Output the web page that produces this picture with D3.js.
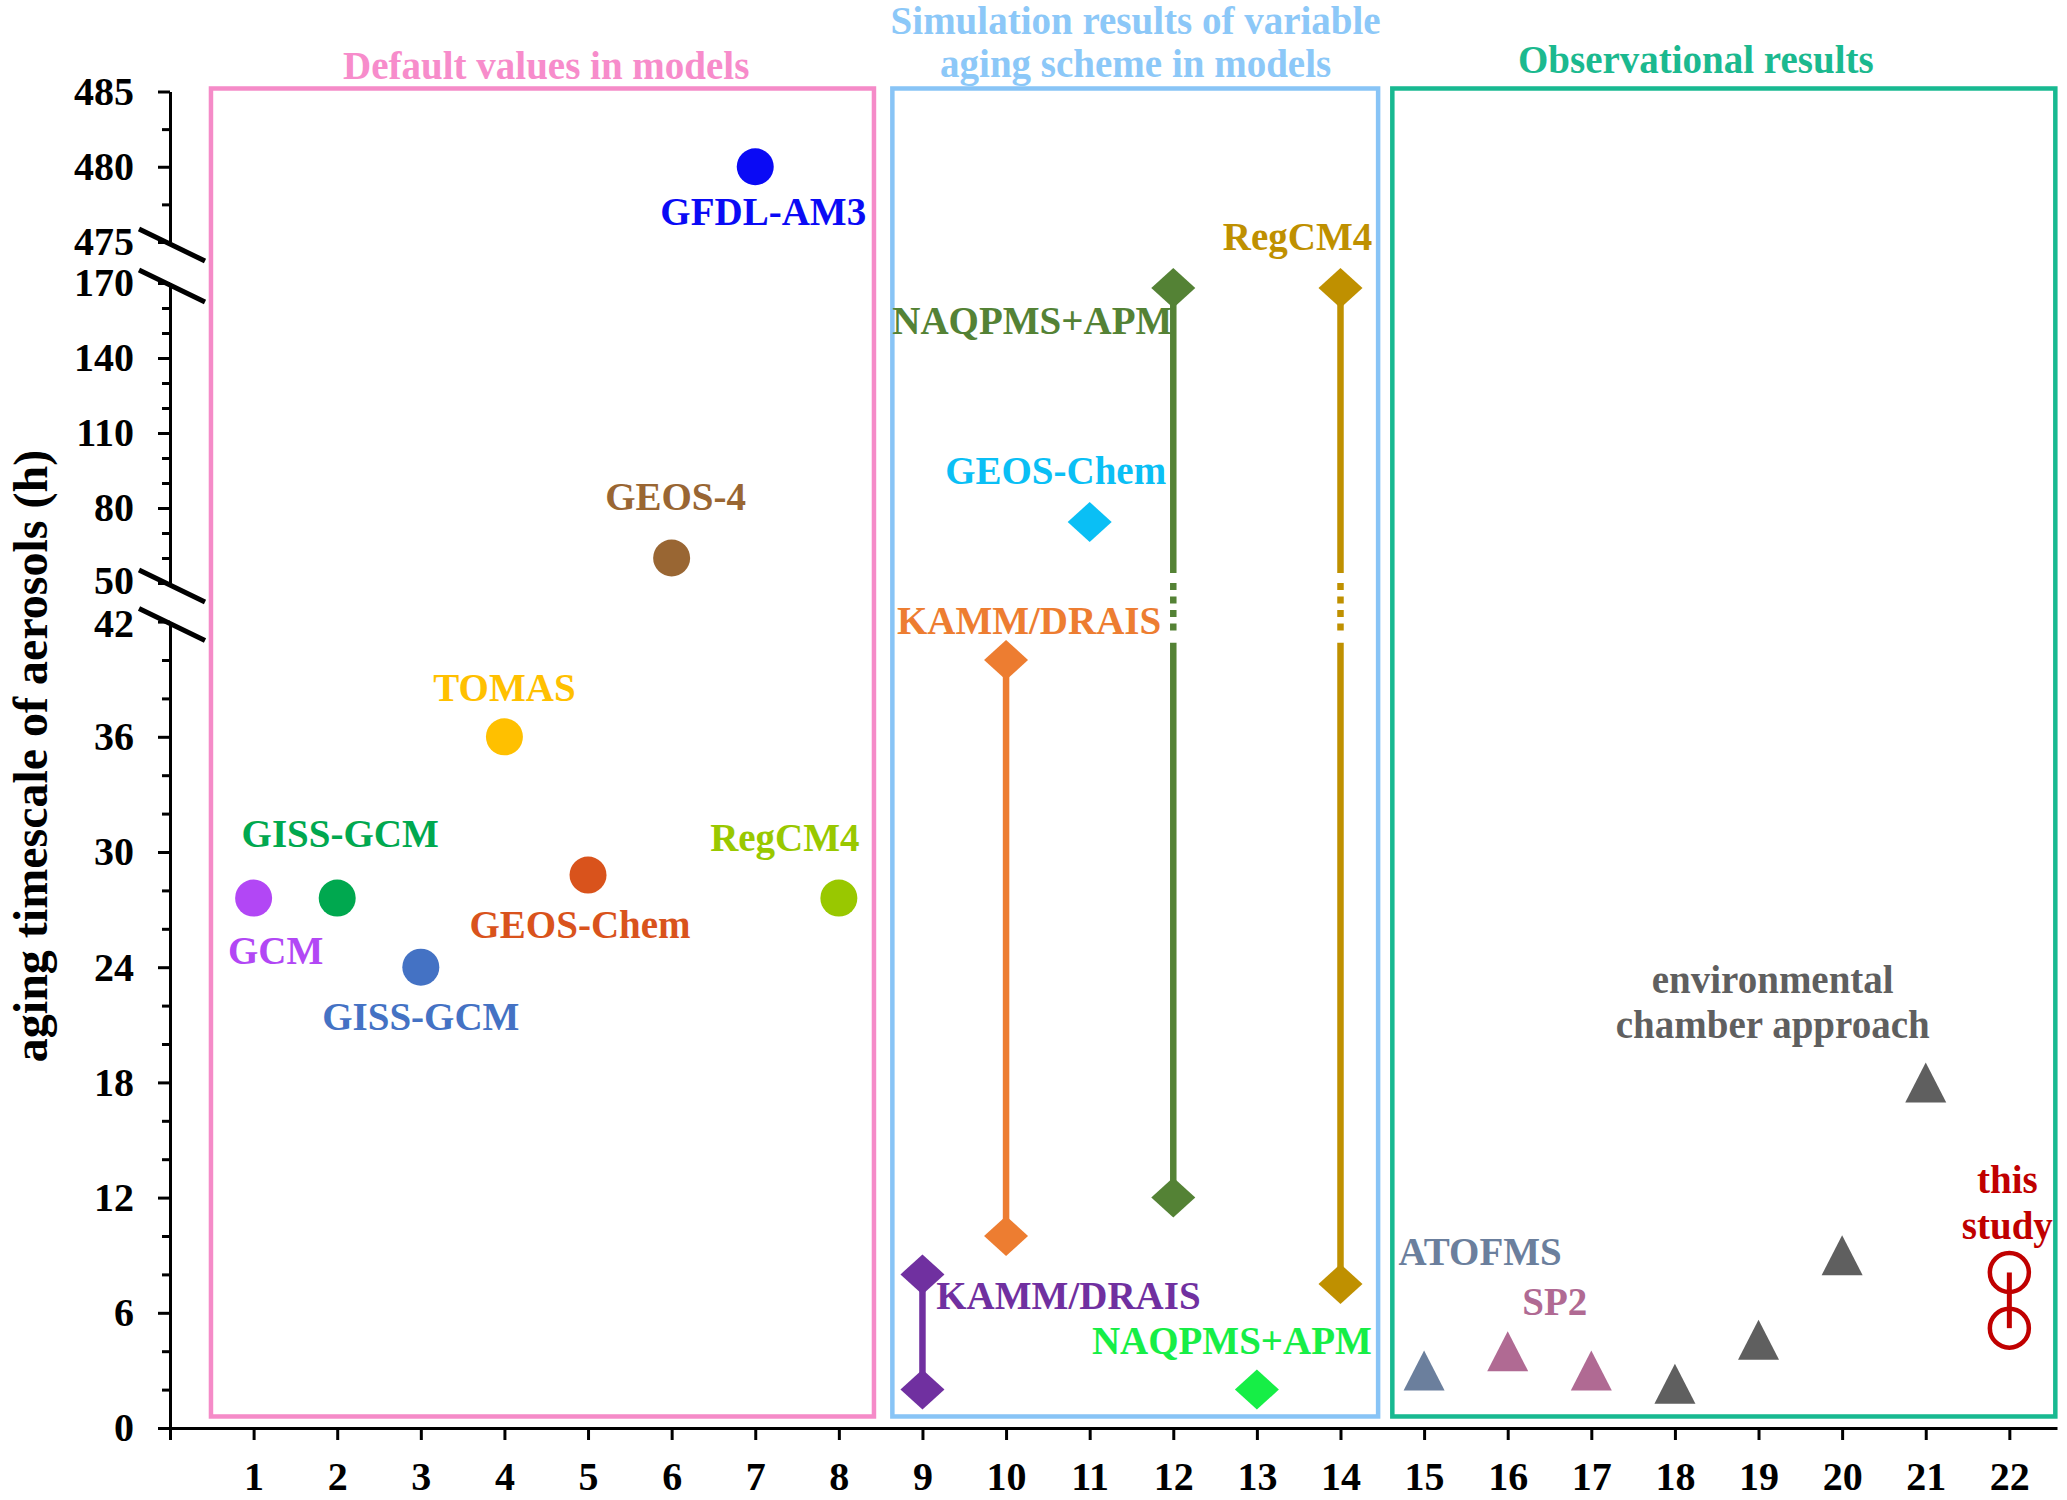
<!DOCTYPE html>
<html>
<head>
<meta charset="utf-8">
<script src="https://cdn.jsdelivr.net/npm/d3@7"></script>
<style>
  body { margin: 0; background: #fff; }
  text { font-family: "Liberation Serif", "Times New Roman", serif; font-weight: bold; }
</style>
</head>
<body>
<div id="chart"></div>
<script>
// ---- data ----
const defaultPos = [1, 2, 3, 4, 5, 6, 7, 8];
const defaultVals = [27.6, 27.6, 24, 36, 28.8, 60, 480, 27.6];
const defaultNames = ["GCM", "GISS-GCM", "GISS-GCM", "TOMAS", "GEOS-Chem", "GEOS-4", "GFDL-AM3", "RegCM4"];

const schemePos = [9, 10, 11, 12, 13, 14];
const schemeLow = [2, 10, 74.4, 12, 2, 7.5];
const schemeHigh = [8, 40, 74.4, 168, 2, 168];
const schemeNames = ["KAMM/DRAIS", "KAMM/DRAIS", "GEOS-Chem", "NAQPMS+APM", "NAQPMS+APM", "RegCM4"];

const obsPos = [15, 16, 17, 18, 19, 20, 21];
const obsVals = [3, 4, 3, 2.3, 4.6, 9, 18];

const studyPos = 22;
const studyVals = [8.1, 5.2];

const xTicks = d3.range(0, 23);
const yLowTicks = [0, 6, 12, 18, 24, 30, 36, 42];
const yMidTicks = [50, 80, 110, 140, 170];
const yTopTicks = [475, 480, 485];

const groupTitles = [["Default values in models"], ["Simulation results of variable", "aging scheme in models"], ["Observational results"]];

// ---- colours ----
const defaultColors = ["#b247f5", "#00a84f", "#4472c4", "#ffc000", "#d9531c", "#996633", "#0a0af5", "#99c800"];
const schemeColors = ["#7030a0", "#ed7d31", "#0abff5", "#548235", "#16ee46", "#bf9000"];
const obsColors = ["#6b7f9d", "#b06a93", "#b06a93", "#5f5f5f", "#5f5f5f", "#5f5f5f", "#5f5f5f"];
const studyColor = "#c00000";
const boxColors = ["#f58bc8", "#88c4f6", "#18b991"];
const titleColors = ["#f78ccb", "#8cc8f8", "#1bb98f"];

// ---- layout ----
const width = 2067, height = 1500;
const svg = d3.select("#chart").append("svg")
    .attr("width", width)
    .attr("height", height);

const x = d3.scaleLinear().domain([0, 22.57]).range([170, 2057]);

// broken y axis: three linear pieces
const yLow = d3.scaleLinear().domain([0, 42]).range([1428, 621.6]);
const yMid = d3.scaleLinear().domain([50, 170]).range([583, 283]);
const yTop = d3.scaleLinear().domain([475, 485]).range([242, 91.5]);
const y = v => v >= 475 ? yTop(v) : (v >= 50 ? yMid(v) : yLow(v));

// group boxes (x extents in axis units)
const boxX = [[0.49, 8.42], [8.64, 14.45], [14.62, 22.55]];
const boxTop = 485.2, boxBottom = 0.6;
const titleX = [4.5, 11.55, 18.25];
const titleBase = [[79], [34, 77], [72.7]];

svg.selectAll(".box")
    .data(boxX)
    .enter().append("rect")
    .attr("class", "box")
    .attr("x", d => x(d[0]))
    .attr("y", y(boxTop))
    .attr("width", d => x(d[1]) - x(d[0]))
    .attr("height", y(boxBottom) - y(boxTop))
    .attr("fill", "none")
    .attr("stroke", (d, i) => boxColors[i])
    .attr("stroke-width", 4.5);

groupTitles.forEach((lines, i) => {
    lines.forEach((t, j) => {
        svg.append("text")
            .attr("x", x(titleX[i]))
            .attr("y", titleBase[i][j])
            .attr("text-anchor", "middle")
            .attr("font-size", 39)
            .attr("fill", titleColors[i])
            .text(t);
    });
});

// ---- axes ----
function styleAxis(g) {
    g.select(".domain").attr("stroke-width", 3);
    g.selectAll(".tick line").attr("stroke-width", 3);
    g.selectAll(".tick text")
        .attr("font-size", 40)
        .attr("fill", "#000")
        .style("font-family", "'Liberation Serif', 'Times New Roman', serif")
        .style("font-weight", "bold");
}

const yPieces = [
    [yLow, yLowTicks, d3.range(2, 42, 2).filter(v => v % 6 !== 0)],
    [yMid, yMidTicks, d3.range(60, 170, 10).filter(v => (v - 50) % 30 !== 0)],
    [yTop, yTopTicks, [477.5, 482.5]]
];

yPieces.forEach(([s, majors, minors]) => {
    svg.append("g")
        .attr("transform", `translate(${x(0)},0)`)
        .call(d3.axisLeft(s).tickValues(minors).tickSize(8).tickSizeOuter(0).tickFormat(""))
        .call(g => g.select(".domain").remove())
        .call(styleAxis);
    svg.append("g")
        .attr("transform", `translate(${x(0)},0)`)
        .call(d3.axisLeft(s).tickValues(majors).tickSize(12).tickSizeOuter(0).tickPadding(24).tickFormat(d3.format("d")))
        .call(styleAxis);
});

// the 50 and 42 labels sit very close across the break: nudge them apart a little
svg.selectAll(".tick text")
    .filter(d => d === 50 || d === 42)
    .attr("dy", d => d === 50 ? "0.25em" : "0.38em");

svg.append("g")
    .attr("transform", `translate(0,${yLow(0)})`)
    .call(d3.axisBottom(x).tickValues(xTicks).tickSize(12).tickSizeOuter(0).tickPadding(22)
        .tickFormat(d => d === 0 ? "" : d))
    .call(styleAxis);

// break marks on the y axis
[475, 170, 50, 42].forEach(v => {
    svg.append("line")
        .attr("x1", x(0) + 2 - 33).attr("y1", y(v) + 3 - 16)
        .attr("x2", x(0) + 2 + 33).attr("y2", y(v) + 3 + 16)
        .attr("stroke", "#000")
        .attr("stroke-width", 5);
});

svg.append("text")
    .attr("transform", `translate(47,756) rotate(-90)`)
    .attr("text-anchor", "middle")
    .attr("font-size", 48)
    .attr("fill", "#000")
    .text("aging timescale of aerosols (h)");

// ---- default values: circles ----
const defaultLabelOff = [[22, 66], [3, -51], [0, 63], [0, -36], [-8, 63], [4, -48], [8, 58], [-54, -47]];

svg.selectAll(".dflt")
    .data(defaultPos)
    .enter().append("circle")
    .attr("class", "dflt")
    .attr("cx", d => x(d))
    .attr("cy", (d, i) => y(defaultVals[i]))
    .attr("r", 18.5)
    .attr("fill", (d, i) => defaultColors[i]);

svg.selectAll(".dfltLabel")
    .data(defaultPos)
    .enter().append("text")
    .attr("class", "dfltLabel")
    .attr("x", (d, i) => x(d) + defaultLabelOff[i][0])
    .attr("y", (d, i) => y(defaultVals[i]) + defaultLabelOff[i][1])
    .attr("text-anchor", "middle")
    .attr("font-size", 39)
    .attr("fill", (d, i) => defaultColors[i])
    .text((d, i) => defaultNames[i]);

// ---- variable aging scheme: diamonds + range lines ----
const schemeLabelOff = [[146, 34.6], [23, -26.5], [-34, -38.5], [-141, 46], [-25, -35.6], [-43, -38]];
const diamond = "M0,-20L22,0L0,20L-22,0Z";
// values where the solid line stops / restarts around the 42-50 axis break
const breakSolidTop = 54, breakSolidBottom = 40.9, breakDashTop = 50, breakDashBottom = 41.4;

schemePos.forEach((p, i) => {
    const lo = schemeLow[i], hi = schemeHigh[i];
    if (hi === lo) return;
    const segs = [];
    if (hi > 50 && lo < 42) {
        segs.push([hi, breakSolidTop, null]);
        segs.push([breakDashTop, breakDashBottom, "7,6.5"]);
        segs.push([breakSolidBottom, lo, null]);
    } else {
        segs.push([hi, lo, null]);
    }
    segs.forEach(([a, b, dash]) => {
        svg.append("line")
            .attr("x1", x(p)).attr("x2", x(p))
            .attr("y1", y(a)).attr("y2", y(b))
            .attr("stroke", schemeColors[i])
            .attr("stroke-width", 6.5)
            .attr("stroke-dasharray", dash);
    });
});

schemePos.forEach((p, i) => {
    const vals = schemeHigh[i] === schemeLow[i] ? [schemeHigh[i]] : [schemeHigh[i], schemeLow[i]];
    vals.forEach(v => {
        svg.append("path")
            .attr("d", diamond)
            .attr("transform", `translate(${x(p)},${y(v)})`)
            .attr("fill", schemeColors[i]);
    });
    svg.append("text")
        .attr("x", x(p) + schemeLabelOff[i][0])
        .attr("y", y(schemeHigh[i]) + schemeLabelOff[i][1])
        .attr("text-anchor", "middle")
        .attr("font-size", 39)
        .attr("fill", schemeColors[i])
        .text(schemeNames[i]);
});

// ---- observations: triangles ----
const triangle = "M0,-20L20.5,20L-20.5,20Z";
svg.selectAll(".obs")
    .data(obsPos)
    .enter().append("path")
    .attr("class", "obs")
    .attr("d", triangle)
    .attr("transform", (d, i) => `translate(${x(d)},${y(obsVals[i])})`)
    .attr("fill", (d, i) => obsColors[i]);

const obsLabels = [
    { text: "ATOFMS", ref: 0, dx: 56, dy: -105.7 },
    { text: "SP2", ref: 1, dx: 47, dy: -36.2 },
    { text: "environmental", ref: 6, dx: -153, dy: -89.4 },
    { text: "chamber approach", ref: 6, dx: -153, dy: -44.7 }
];
obsLabels.forEach(l => {
    svg.append("text")
        .attr("x", x(obsPos[l.ref]) + l.dx)
        .attr("y", y(obsVals[l.ref]) + l.dy)
        .attr("text-anchor", "middle")
        .attr("font-size", 39)
        .attr("fill", obsColors[l.ref])
        .text(l.text);
});

// ---- this study ----
svg.append("line")
    .attr("x1", x(studyPos)).attr("x2", x(studyPos))
    .attr("y1", y(studyVals[0])).attr("y2", y(studyVals[1]))
    .attr("stroke", studyColor)
    .attr("stroke-width", 5);

svg.selectAll(".study")
    .data(studyVals)
    .enter().append("circle")
    .attr("class", "study")
    .attr("cx", x(studyPos))
    .attr("cy", d => y(d))
    .attr("r", 19.5)
    .attr("fill", "none")
    .attr("stroke", studyColor)
    .attr("stroke-width", 4.5);

[["this", -79.5], ["study", -33]].forEach(([t, dy]) => {
    svg.append("text")
        .attr("x", x(studyPos) - 2)
        .attr("y", y(studyVals[0]) + dy)
        .attr("text-anchor", "middle")
        .attr("font-size", 39)
        .attr("fill", studyColor)
        .text(t);
});
</script>
</body>
</html>
